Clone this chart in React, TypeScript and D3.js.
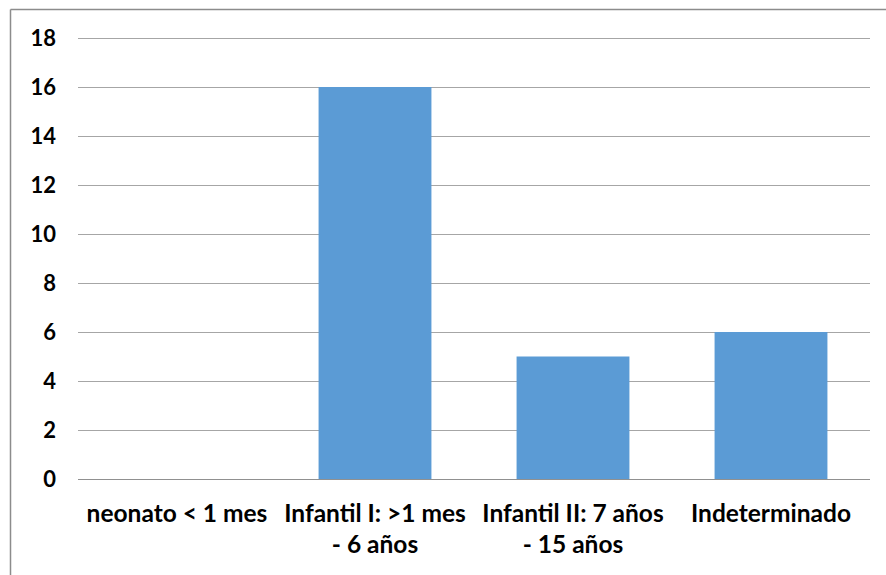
import React from "react";
import * as d3 from "d3";

const categories: string[][] = [
  ["neonato < 1 mes"],
  ["Infantil I: >1 mes", "- 6 años"],
  ["Infantil II: 7 años", "- 15 años"],
  ["Indeterminado"],
];
const values: number[] = [0, 16, 5, 6];
const yTicks: number[] = [0, 2, 4, 6, 8, 10, 12, 14, 16, 18];

const W = 886;
const H = 575;
const left = 78;
const right = 870;
const top = 38;
const bottom = 479;
const font = "Lato, 'Open Sans', sans-serif";

export default function App() {
  const x = d3
    .scaleBand<number>()
    .domain(categories.map((_, i) => i))
    .range([left, right])
    .paddingInner(0.43)
    .paddingOuter(0.215);
  const y = d3.scaleLinear().domain([0, 18]).range([bottom, top]);

  return (
    <svg
      width={W}
      height={H}
      style={{ position: "absolute", left: 0, top: 0 }}
    >
      <rect x={0} y={0} width={W} height={H} fill="#fff" />
      {/* outer frame */}
      <line x1={10.5} y1={9.5} x2={W} y2={9.5} stroke="#8c8c8c" strokeWidth={1.5} />
      <line x1={10.5} y1={9.5} x2={10.5} y2={H} stroke="#8c8c8c" strokeWidth={1.5} />
      {yTicks.map((t) => (
        <g key={t}>
          <line
            x1={left}
            x2={right}
            y1={Math.round(y(t)) + 0.5}
            y2={Math.round(y(t)) + 0.5}
            stroke={t === 0 ? "#909090" : "#a6a6a6"}
            strokeWidth={1}
          />
          <text
            x={56}
            y={y(t)}
            dy="0.36em"
            textAnchor="end"
            fontFamily={font}
            fontWeight="bold"
            fontSize={22}
            fill="#000"
          >
            {t}
          </text>
        </g>
      ))}
      {values.map((v, i) => (
        <rect
          key={i}
          x={x(i)}
          width={x.bandwidth()}
          y={y(v)}
          height={bottom - y(v)}
          fill="#5b9bd5"
        />
      ))}
      {categories.map((lines, i) => (
        <text
          key={i}
          x={(x(i) as number) + x.bandwidth() / 2}
          y={522}
          textAnchor="middle"
          fontFamily={font}
          fontWeight="bold"
          fontSize={24.5}
          fill="#000"
        >
          {lines.map((l, j) => (
            <tspan key={j} x={(x(i) as number) + x.bandwidth() / 2} dy={j === 0 ? 0 : 31}>
              {l}
            </tspan>
          ))}
        </text>
      ))}
    </svg>
  );
}
